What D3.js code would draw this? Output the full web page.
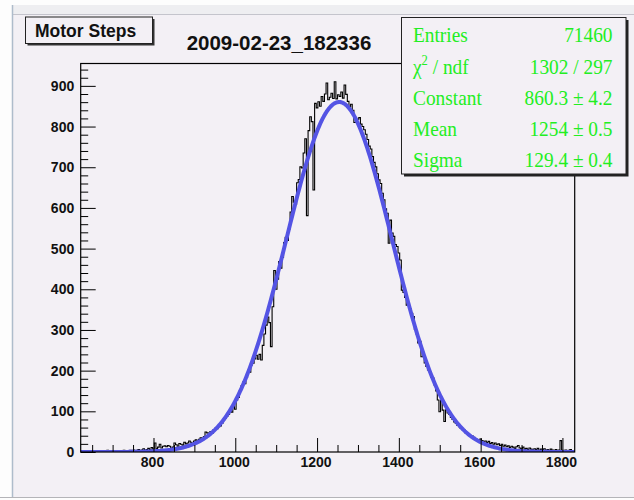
<!DOCTYPE html>
<html><head><meta charset="utf-8">
<script src="https://cdn.jsdelivr.net/npm/d3@7"></script>
<style>html,body{margin:0;padding:0;background:#fdfdfd;} svg{display:block}</style>
</head><body>
<svg id="c" width="634" height="500"></svg>
<script>
// ---------- data ----------
const histName = "Motor Steps";
const histTitle = "2009-02-23_182336";
const binLow = 622;
const binWidth = 4;
const xDomain = [622, 1830];
const yDomain = [0, 955];
const counts = [
  0,1,
  1,0,2,1,0,3,1,2,0,1,
  2,1,0,2,4,1,3,1,2,0,
  2,3,1,2,4,2,3,1,4,3,
  5,2,4,6,3,5,8,4,6,9,
  5,11,7,22,8,12,19,10,14,15,
  13,16,14,9,12,22,18,14,21,19,
  17,24,20,22,27,24,21,27,30,28,
  31,35,33,38,49,47,44,50,46,55,
  58,57,62,64,71,79,83,88,92,101,
  98,112,105,128,134,150,163,172,168,183,
  201,196,214,218,229,238,228,240,226,262,
  290,312,332,318,259,357,446,400,425,468,
  452,478,515,528,520,548,590,628,614,609,
  662,670,701,698,735,770,581,790,824,812,
  644,857,846,861,850,874,862,880,907,866,
  872,882,869,910,868,878,874,885,870,902,
  879,862,849,855,840,810,812,818,822,806,
  800,792,781,768,752,745,726,712,701,684,
  669,660,636,620,598,587,513,570,538,530,
  510,505,489,472,398,392,380,361,366,352,
  341,333,301,290,268,272,234,240,219,210,
  202,198,184,182,165,150,128,99,127,103,
  75,104,96,92,85,80,74,70,65,62,
  58,55,54,47,44,43,40,39,36,33,
  30,29,32,28,24,27,23,26,21,23,
  19,22,18,20,16,19,14,17,13,15,
  11,14,12,9,13,16,10,8,12,7,
  9,6,10,7,5,8,6,9,4,7,
  5,8,3,6,4,7,5,3,6,4,
  5,28,4,3,5,2,4,6,3,2
];
const xMajorTicks = [800, 1000, 1200, 1400, 1600, 1800];
const xMinorTicks = [650,700,750,850,900,950,1050,1100,1150,1250,1300,1350,1450,1500,1550,1650,1700,1750];
const yMajorTicks = [0,100,200,300,400,500,600,700,800,900];
const yMinorTicks = [20,40,60,80,120,140,160,180,220,240,260,280,320,340,360,380,420,440,460,480,520,540,560,580,620,640,660,680,720,740,760,780,820,840,860,880,920,940];
const statLabels = ["Entries", "chi2", "Constant", "Mean", "Sigma"];
const statValues = ["71460", "1302 / 297", "860.3 \u00b1 4.2", "1254 \u00b1 0.5", "129.4 \u00b1 0.4"];
const fitConstant = 860.3, fitMean = 1254, fitSigma = 129.4;

// ---------- drawing ----------
const svg = d3.select("#c");
const W = 634, H = 500;
const canvasCol = "#f3f0f5";

svg.append("rect").attr("x",0).attr("y",0).attr("width",W).attr("height",H).attr("fill","#fdfdfd");
svg.append("rect").attr("x",13).attr("y",5).attr("width",W-13).attr("height",10).attr("fill","#eeeef1");
svg.append("rect").attr("x",13).attr("y",15).attr("width",W-13).attr("height",482).attr("fill",canvasCol);
svg.append("line").attr("x1",13).attr("x2",W).attr("y1",14.5).attr("y2",14.5).attr("stroke","#c4c4cc");
svg.append("line").attr("x1",12.5).attr("x2",12.5).attr("y1",5).attr("y2",497).attr("stroke","#aebccb").attr("stroke-width",1.5);
svg.append("line").attr("x1",0).attr("x2",W).attr("y1",497.5).attr("y2",497.5).attr("stroke","#b4b4b8");

const x = d3.scaleLinear().domain(xDomain).range([80.7, 574.7]);
const y = d3.scaleLinear().domain(yDomain).range([452, 63.5]);

// clip
svg.append("clipPath").attr("id","fr").append("rect")
  .attr("x",x.range()[0]).attr("y",y.range()[1])
  .attr("width",x.range()[1]-x.range()[0]).attr("height",y.range()[0]-y.range()[1]);

// histogram outline
let p = "";
counts.forEach((v,i)=>{
  const x0 = x(binLow + i*binWidth), x1 = x(binLow + (i+1)*binWidth), yy = y(v);
  p += (i===0 ? `M${x0},${yy}` : `V${yy}`) + `H${x1}`;
});
svg.append("path").attr("d",p).attr("fill","none").attr("stroke","#000").attr("stroke-width",1.1)
  .attr("clip-path","url(#fr)");

// fit curve (Gaussian with fitted parameters)
const fx = d3.range(0, 401).map(k => xDomain[0] + k*(xDomain[1]-xDomain[0])/400);
const line = d3.line().x(d=>x(d)).y(d=>y(fitConstant*Math.exp(-0.5*Math.pow((d-fitMean)/fitSigma,2)))).curve(d3.curveLinear);
svg.append("path").datum(fx).attr("d",line).attr("fill","none").attr("stroke","#5454e4")
  .attr("stroke-width",4).attr("stroke-linejoin","round").attr("clip-path","url(#fr)");

// axes
const labFont = "'Liberation Sans', Arial, Helvetica, sans-serif";
const gx = svg.append("g").attr("transform",`translate(0,${y(0)})`)
  .call(d3.axisBottom(x).tickValues(xMajorTicks).tickSize(-14).tickSizeOuter(0).tickPadding(5.5).tickFormat(d3.format("d")));
svg.append("g").attr("transform",`translate(0,${y(0)})`)
  .call(d3.axisBottom(x).tickValues(xMinorTicks).tickSize(-7).tickSizeOuter(0).tickFormat(""));
const gy = svg.append("g").attr("transform",`translate(${x.range()[0]},0)`)
  .call(d3.axisLeft(y).tickValues(yMajorTicks).tickSize(-15).tickSizeOuter(0).tickPadding(6.5).tickFormat(d3.format("d")));
svg.append("g").attr("transform",`translate(${x.range()[0]},0)`)
  .call(d3.axisLeft(y).tickValues(yMinorTicks).tickSize(-7.5).tickSizeOuter(0).tickFormat(""));
svg.selectAll(".domain").remove();
svg.selectAll(".tick line").attr("stroke","#000").attr("stroke-width",1);
svg.selectAll(".tick text").attr("font-family",labFont).attr("font-weight","bold").attr("font-size",14).attr("fill","#111");
gx.selectAll(".tick text").attr("dx",-1.5);

// frame
svg.append("rect").attr("x",x.range()[0]).attr("y",y.range()[1])
  .attr("width",x.range()[1]-x.range()[0]).attr("height",y.range()[0]-y.range()[1])
  .attr("fill","none").attr("stroke","#000").attr("stroke-width",1.2);

// title
svg.append("text").attr("x",279).attr("y",49.5).attr("text-anchor","middle")
  .attr("font-family",labFont).attr("font-weight","bold").attr("font-size",20.5).attr("fill","#111").text(histTitle);

// name box
svg.append("rect").attr("x",27.5).attr("y",19).attr("width",127).attr("height",26.5).attr("fill","#333");
svg.append("rect").attr("x",25.5).attr("y",17).attr("width",127).attr("height",26.5).attr("fill",canvasCol).attr("stroke","#222").attr("stroke-width",1);
svg.append("text").attr("x",35).attr("y",37).attr("font-family",labFont).attr("font-weight","bold")
  .attr("font-size",17.5).attr("fill","#111").text(histName);

// stats box
const sb = {x:401.5, y:17.5, w:224.5, h:156.5};
svg.append("rect").attr("x",sb.x+2.5).attr("y",sb.y+2.5).attr("width",sb.w).attr("height",sb.h).attr("fill","#222");
svg.append("rect").attr("x",sb.x).attr("y",sb.y).attr("width",sb.w).attr("height",sb.h).attr("fill",canvasCol).attr("stroke","#222");
const serif = "'Liberation Serif', 'Times New Roman', Times, serif";
const green = "#22ee22";
const rowY = [42, 73.5, 105, 136, 167];
const sx = 0.9, fs = 21.5;
statLabels.forEach((lab,i)=>{
  const t = svg.append("text").attr("transform",`translate(413,${rowY[i]}) scale(${sx},1)`)
    .attr("font-family",serif).attr("font-size",fs).attr("fill",green);
  if (lab === "chi2") {
    t.append("tspan").text("\u03c7");
    t.append("tspan").attr("font-size",14).attr("dy",-8.5).text("2");
    t.append("tspan").attr("dy",8.5).text(" / ndf");
  } else t.text(lab);
  svg.append("text").attr("transform",`translate(612.5,${rowY[i]}) scale(${sx},1)`).attr("text-anchor","end")
    .attr("font-family",serif).attr("font-size",fs).attr("fill",green).text(statValues[i]);
});
</script>
</body></html>
